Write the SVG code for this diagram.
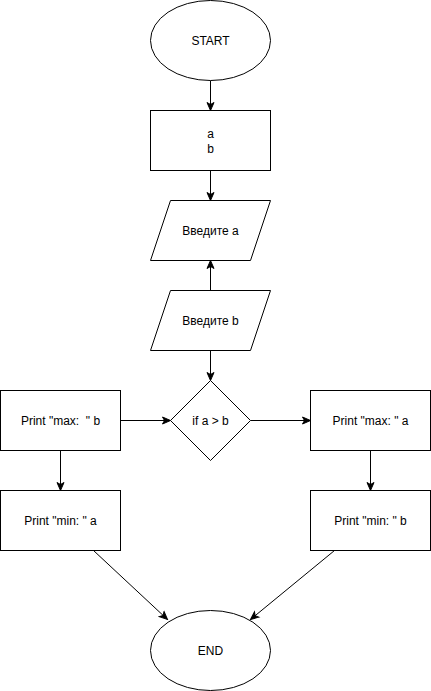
<svg xmlns="http://www.w3.org/2000/svg" width="431" height="691" viewBox="0 0 431 691">
<style>
.s{fill:#fff;stroke:#000;stroke-width:1}
.t{font-family:"Liberation Sans",Arial,sans-serif;font-size:12px;fill:#000;text-anchor:middle;dominant-baseline:central;white-space:pre}
.e{fill:none;stroke:#000;stroke-width:1;marker-end:url(#arr)}
</style>
<defs>
<marker id="arr" markerUnits="userSpaceOnUse" markerWidth="10" markerHeight="10" refX="9" refY="5" orient="auto">
<path d="M1,1.5 L9,5 L1,8.5 L3,5 Z" fill="#000" stroke="#000" stroke-width="1"/>
</marker>
</defs>
<rect width="431" height="691" fill="#fff"/>
<g transform="translate(0.5,0.5)">
<g id="connectors">
<path class="e" d="M210,80 L210,110"/>
<path class="e" d="M210,170 L210,200"/>
<path class="e" d="M210,290 L210,260"/>
<path class="e" d="M210,350 L210,380"/>
<path class="e" d="M120,420 L170,420"/>
<path class="e" d="M250,420 L310,420"/>
<path class="e" d="M60,450 L60,490"/>
<path class="e" d="M370,450 L370,490"/>
<path class="e" d="M93,550 L167,619"/>
<path class="e" d="M334,550 L250,619"/>
</g>
<g id="start"><ellipse class="s" cx="210" cy="40" rx="60" ry="40"/><text class="t" x="210" y="40">START</text></g>
<g id="vars"><rect class="s" x="150" y="110" width="120" height="60"/><text class="t" x="210" y="133">a</text><text class="t" x="210" y="148">b</text></g>
<g id="inputA"><path class="s" d="M170,200 L270,200 L250,260 L150,260 Z"/><text class="t" x="210" y="230">Введите a</text></g>
<g id="inputB"><path class="s" d="M170,290 L270,290 L250,350 L150,350 Z"/><text class="t" x="210" y="320">Введите b</text></g>
<g id="cond"><path class="s" d="M210,380 L250,420 L210,460 L170,420 Z"/><text class="t" x="210" y="420">if a &gt; b</text></g>
<g id="maxB"><rect class="s" x="0" y="390" width="120" height="60"/><text class="t" x="60" y="420">Print "max:  " b</text></g>
<g id="maxA"><rect class="s" x="310" y="390" width="120" height="60"/><text class="t" x="370" y="420">Print "max: " a</text></g>
<g id="minA"><rect class="s" x="0" y="490" width="120" height="60"/><text class="t" x="60" y="520">Print "min: " a</text></g>
<g id="minB"><rect class="s" x="310" y="490" width="120" height="60"/><text class="t" x="370" y="520">Print "min: " b</text></g>
<g id="end"><ellipse class="s" cx="210" cy="650" rx="60" ry="40"/><text class="t" x="210" y="650">END</text></g>
</g>
</svg>
